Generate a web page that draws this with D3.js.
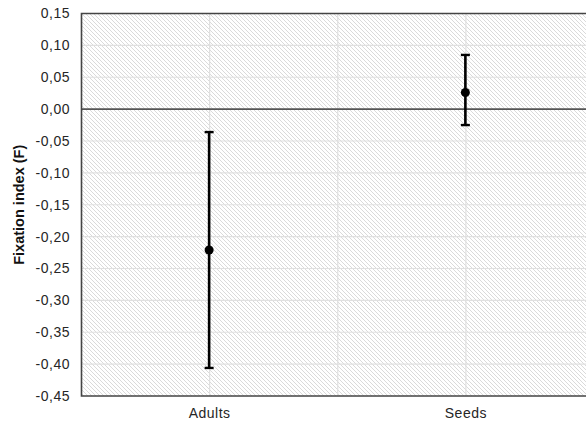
<!DOCTYPE html>
<html>
<head>
<meta charset="utf-8">
<script src="https://cdn.jsdelivr.net/npm/d3@7"></script>
<style>
  body { margin: 0; background: #fff; }
  svg { display: block; font-family: "Liberation Sans", Arial, sans-serif; }
  .tick-label { font-size: 14px; letter-spacing: 0.5px; fill: #262626; }
  .axis-title { font-size: 14.5px; font-weight: bold; fill: #111; }
</style>
</head>
<body>
<svg id="chart"></svg>
<script>
// data
const groups = ['Adults', 'Seeds'];
const means = [-0.221, 0.026];
const lower = [-0.406, -0.025];
const upper = [-0.036, 0.085];
const yTicks = [0.15, 0.10, 0.05, 0.00, -0.05, -0.10, -0.15, -0.20, -0.25, -0.30, -0.35, -0.40, -0.45];

const width = 586, height = 422;
const margin = { top: 13.5, left: 81.5, bottom: 26 };
const plotRight = 594; // plot runs past the right edge of the picture

const svg = d3.select('#chart')
    .attr('width', width)
    .attr('height', height);

const x = d3.scaleBand()
    .domain(groups)
    .range([margin.left, plotRight]);

const y = d3.scaleLinear()
    .domain([-0.45, 0.15])
    .range([height - margin.bottom, margin.top]);

const locale = d3.formatLocale({ decimal: ',', thousands: '.', grouping: [3], currency: ['', ''], minus: '-' });
const fmt = locale.format('.2f');

// hatch fill
const defs = svg.append('defs');
defs.append('pattern')
    .attr('id', 'hatch')
    .attr('patternUnits', 'userSpaceOnUse')
    .attr('width', 4)
    .attr('height', 4)
  .append('path')
    .attr('d', 'M-1,-1 L5,5 M-1,3 L1,5 M3,-1 L5,1')
    .attr('stroke', '#dadada')
    .attr('stroke-width', 1);

svg.append('rect')
    .attr('x', margin.left)
    .attr('y', margin.top)
    .attr('width', plotRight - margin.left)
    .attr('height', y(-0.45) - y(0.15))
    .attr('fill', 'url(#hatch)');

// grid lines
svg.append('g').selectAll('line')
    .data(yTicks.filter(d => d !== 0 && d !== 0.15 && d !== -0.45))
    .join('line')
      .attr('x1', margin.left)
      .attr('x2', plotRight)
      .attr('y1', d => y(d))
      .attr('y2', d => y(d))
      .attr('stroke', '#e0e0e0')
      .attr('stroke-width', 1.2);

const vGrid = [x('Adults') + x.bandwidth() / 2, x('Seeds'), x('Seeds') + x.bandwidth() / 2];
svg.append('g').selectAll('line')
    .data(vGrid)
    .join('line')
      .attr('x1', d => d)
      .attr('x2', d => d)
      .attr('y1', margin.top)
      .attr('y2', y(-0.45))
      .attr('stroke', '#e0e0e0')
      .attr('stroke-width', 1.2);

// zero line
svg.append('line')
    .attr('x1', margin.left)
    .attr('x2', plotRight)
    .attr('y1', y(0))
    .attr('y2', y(0))
    .attr('stroke', '#555')
    .attr('stroke-width', 1.6);

// frame
svg.append('path')
    .attr('d', `M${plotRight},${y(0.15)} H${margin.left} V${y(-0.45)} H${plotRight}`)
    .attr('fill', 'none')
    .attr('stroke', '#444')
    .attr('stroke-width', 1.6);

// y tick labels
svg.append('g').selectAll('text')
    .data(yTicks)
    .join('text')
      .attr('class', 'tick-label')
      .attr('x', 70)
      .attr('y', d => y(d))
      .attr('dy', '0.35em')
      .attr('text-anchor', 'end')
      .text(d => fmt(d));

// x labels
svg.append('g').selectAll('text')
    .data(groups)
    .join('text')
      .attr('class', 'tick-label')
      .attr('x', d => x(d) + x.bandwidth() / 2)
      .attr('y', y(-0.45) + 22)
      .attr('text-anchor', 'middle')
      .text(d => d);

// y title
svg.append('text')
    .attr('class', 'axis-title')
    .attr('transform', `translate(24, ${(y(0.15) + y(-0.45)) / 2}) rotate(-90)`)
    .attr('text-anchor', 'middle')
    .text('Fixation index (F)');

// error bars
const rows = groups.map((g, i) => ({ g, m: means[i], lo: lower[i], hi: upper[i] }));
const cx = d => x(d.g) + x.bandwidth() / 2 - 0.5;
const bars = svg.append('g');

bars.selectAll('.whisker')
    .data(rows)
    .join('line')
      .attr('class', 'whisker')
      .attr('x1', cx).attr('x2', cx)
      .attr('y1', d => y(d.hi)).attr('y2', d => y(d.lo))
      .attr('stroke', '#000')
      .attr('stroke-width', 2.6);

['hi', 'lo'].forEach(k => {
    bars.selectAll('.cap-' + k)
        .data(rows)
        .join('line')
          .attr('class', 'cap-' + k)
          .attr('x1', d => cx(d) - 4.5).attr('x2', d => cx(d) + 4.5)
          .attr('y1', d => y(d[k])).attr('y2', d => y(d[k]))
          .attr('stroke', '#000')
          .attr('stroke-width', 2.4);
});

bars.selectAll('circle')
    .data(rows)
    .join('circle')
      .attr('cx', cx)
      .attr('cy', d => y(d.m))
      .attr('r', 4.5)
      .attr('fill', '#000');
</script>
</body>
</html>
